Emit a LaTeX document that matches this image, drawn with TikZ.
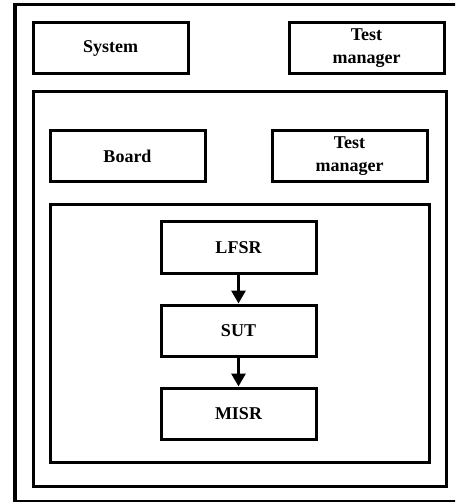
\documentclass[tikz,border=0pt]{standalone}
\usepackage{fontspec}
\setmainfont{Liberation Serif}
\usetikzlibrary{arrows.meta}
\begin{document}
\begin{tikzpicture}[x=1pt,y=-1pt,
  block/.style={draw, line width=3pt, rectangle, inner sep=0pt,
    minimum width=155pt, minimum height=51pt, align=center,
    font=\fontsize{18}{23}\selectfont\bfseries},
  frame/.style={draw, line width=3pt, rectangle, inner sep=0pt, anchor=north west},
  flow/.style={line width=3pt, -{Triangle[width=14pt,length=13pt]}}]
  \useasboundingbox (0,0) rectangle (455,502);
  \clip (0,0) rectangle (455,502);
  % nested frames
  \node[frame, line width=3.5pt, minimum width=450pt, minimum height=497pt] (outer) at (13,3) {};
  \node[frame, minimum width=413pt, minimum height=395pt] (boardlevel) at (32,90) {};
  \node[frame, minimum width=379pt, minimum height=258pt] (chiplevel) at (49,203) {};
  % system level
  \node[block] (system) at (110.5,48) {System};
  \node[block] (tmsys) at (366.5,48) {Test\\manager};
  % board level
  \node[block] (board) at (127.5,156) {Board};
  \node[block] (tmboard) at (349.5,156) {Test\\manager};
  % BIST chain
  \node[block] (lfsr) at (238.5,247.5) {LFSR};
  \node[block] (sut) at (238.5,330.5) {SUT};
  \node[block] (misr) at (238.5,413.5) {MISR};
  \draw[flow] (lfsr) -- (sut);
  \draw[flow] (sut) -- (misr);
\end{tikzpicture}
\end{document}
